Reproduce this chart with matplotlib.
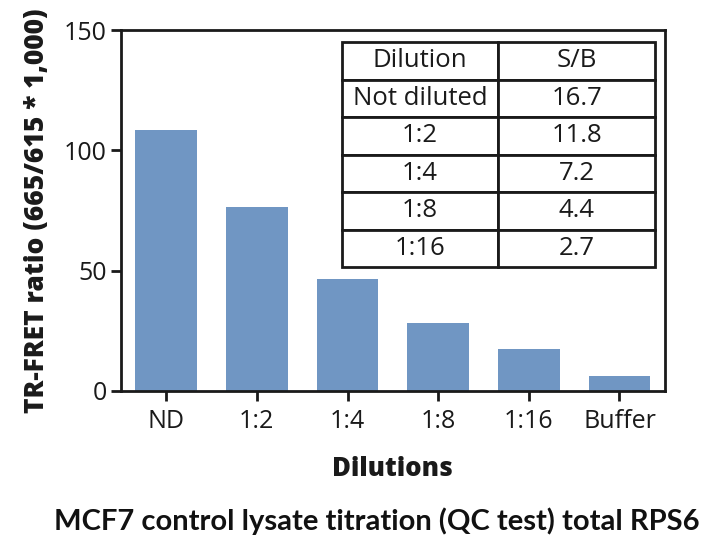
import matplotlib
matplotlib.use("Agg")
import matplotlib.pyplot as plt

categories = ["ND", "1:2", "1:4", "1:8", "1:16", "Buffer"]
values = [108.4, 76.3, 46.4, 28.3, 17.4, 6.2]
table_dilutions = ["Not diluted", "1:2", "1:4", "1:8", "1:16"]
table_sb = ["16.7", "11.8", "7.2", "4.4", "2.7"]
y_ticks = [0, 50, 100, 150]

fig = plt.figure(figsize=(7.11, 5.40), dpi=100)
ax = fig.add_axes([0.170, 0.276, 0.765, 0.668])

x = list(range(len(categories)))
ax.bar(x, values, width=0.68, color="#7096C3", zorder=2)
ax.set_xlim(-0.5, 5.5)
ax.set_ylim(0, 150)
ax.set_yticks(y_ticks)
ax.set_xticks(x)
ax.set_xticklabels(categories)

fam = ["Open Sans", "DejaVu Sans"]
for lab in ax.get_xticklabels() + ax.get_yticklabels():
    lab.set_fontfamily(fam)
    lab.set_fontsize(18)
    lab.set_color("#1a1a1a")

for s in ax.spines.values():
    s.set_linewidth(2)
    s.set_color("#1a1a1a")
ax.tick_params(axis="both", width=2, length=7, color="#1a1a1a")
ax.tick_params(axis="x", pad=6)
ax.tick_params(axis="y", pad=3)

ax.set_ylabel("TR-FRET ratio (665/615 * 1,000)", fontsize=19, fontweight="heavy",
              family=fam, color="#1a1a1a", labelpad=10)
ax.set_xlabel("Dilutions", fontsize=18.5, fontweight="heavy",
              family=fam, color="#1a1a1a", labelpad=16)

cell_text = [["Dilution", "S/B"]] + [[d, s] for d, s in zip(table_dilutions, table_sb)]
tbl = ax.table(cellText=cell_text, cellLoc="center",
               bbox=[0.406, 0.343, 0.576, 0.624], zorder=5)
tbl.auto_set_font_size(False)
for (r, c), cell in tbl.get_celld().items():
    cell.set_linewidth(2)
    cell.set_edgecolor("#1a1a1a")
    cell.set_facecolor("white")
    t = cell.get_text()
    t.set_fontsize(18.5)
    t.set_fontfamily(fam)
    t.set_color("#1a1a1a")

fig.text(0.530, 0.034, "MCF7 control lysate titration (QC test) total RPS6",
         ha="center", va="center", fontsize=21, fontweight="bold",
         family=["Lato", "DejaVu Sans"], color="#111111")

fig.savefig("out.png", dpi=100)
